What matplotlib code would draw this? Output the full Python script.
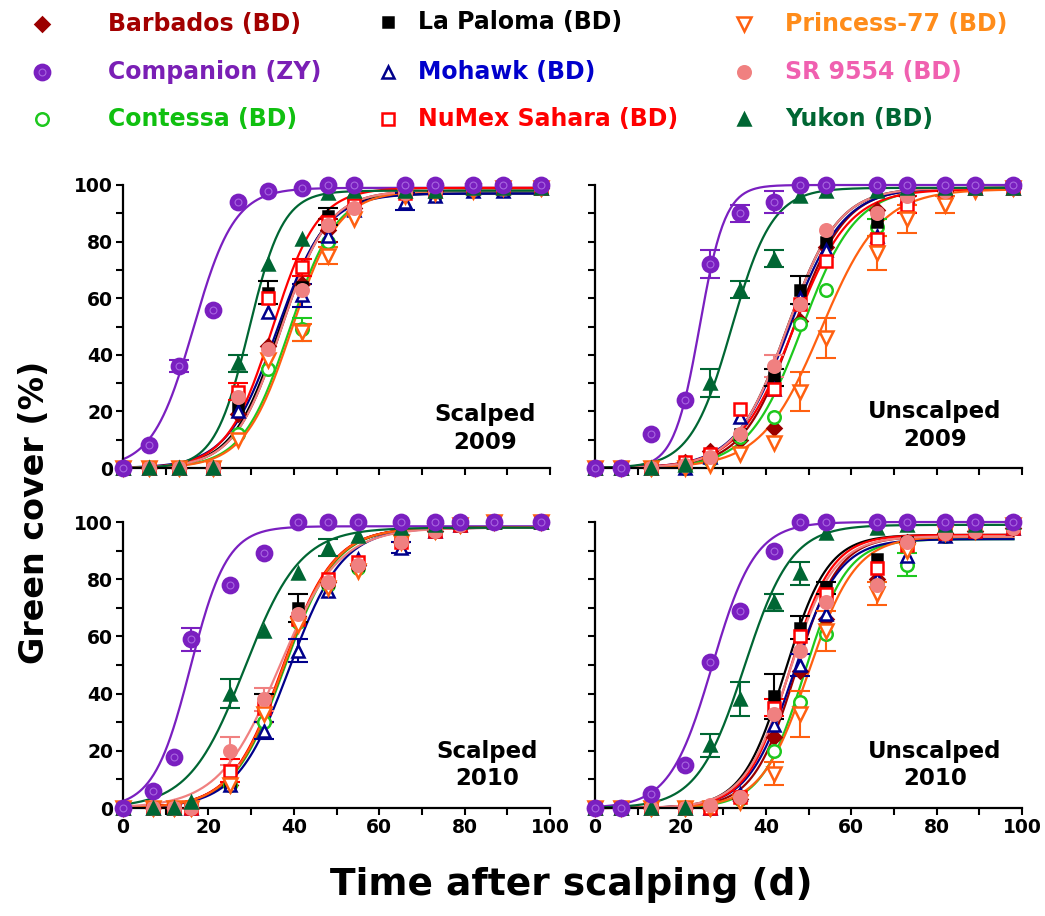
import numpy as np
import matplotlib
matplotlib.use('Agg')
import matplotlib.pyplot as plt
from matplotlib.ticker import MultipleLocator

plt.rcParams['font.family'] = ['DejaVu Sans']
plt.rcParams['font.weight'] = 'bold'

# cultivars, in legend order (column-wise)
names = ['Barbados', 'Companion', 'Contessa', 'La Paloma', 'Mohawk',
         'NuMex Sahara', 'Princess-77', 'SR 9554', 'Yukon']
labels = ['Barbados (BD)', 'Companion (ZY)', 'Contessa (BD)', 'La Paloma (BD)',
          'Mohawk (BD)', 'NuMex Sahara (BD)', 'Princess-77 (BD)', 'SR 9554 (BD)',
          'Yukon (BD)']

# sampling days
t_2009 = [0, 6, 13, 21, 27, 34, 42, 48, 54, 66, 73, 82, 89, 98]
t_s2010 = [0, 7, 12, 16, 25, 33, 41, 48, 55, 65, 73, 79, 87, 98]
t_u2010 = [0, 6, 13, 21, 27, 34, 42, 48, 54, 66, 73, 82, 89, 98]

# green cover (%) -- scalped 2009
s09 = {
    'Barbados':     [0, 0, 0, 0, 19, 43, 65, 84, 92, 97, 98, 99, 99, 99],
    'Companion':    [0, 8, 36, 56, 94, 98, 99, 100, 100, 100, 100, 100, 100, 100],
    'Contessa':     [0, 0, 0, 0, 12, 35, 49, 80, 95, 97, 98, 99, 99, 99],
    'La Paloma':    [0, 0, 0, 0, 22, 62, 64, 89, 92, 97, 97, 98, 99, 99],
    'Mohawk':       [0, 0, 0, 0, 20, 55, 61, 82, 91, 94, 96, 98, 98, 99],
    'NuMex Sahara': [0, 0, 0, 0, 27, 60, 71, 87, 93, 97, 98, 99, 99, 99],
    'Princess-77':  [0, 0, 0, 0, 10, 38, 48, 75, 88, 96, 97, 98, 99, 99],
    'SR 9554':      [0, 0, 0, 0, 25, 42, 63, 86, 92, 97, 98, 99, 99, 99],
    'Yukon':        [0, 0, 0, 0, 37, 72, 81, 97, 98, 98, 98, 99, 99, 99],
}
# unscalped 2009
u09 = {
    'Barbados':     [0, 0, 0, 2, 6, 10, 14, 52, 78, 91, 96, 98, 99, 99],
    'Companion':    [0, 0, 12, 24, 72, 90, 94, 100, 100, 100, 100, 100, 100, 100],
    'Contessa':     [0, 0, 0, 0, 3, 11, 18, 51, 63, 85, 96, 98, 99, 99],
    'La Paloma':    [0, 0, 0, 1, 4, 12, 32, 63, 80, 87, 96, 98, 99, 99],
    'Mohawk':       [0, 0, 0, 0, 4, 18, 28, 60, 77, 82, 96, 98, 99, 99],
    'NuMex Sahara': [0, 0, 0, 2, 5, 21, 28, 58, 73, 81, 93, 98, 99, 99],
    'Princess-77':  [0, 0, 0, 0, 1, 5, 9, 27, 46, 76, 88, 93, 98, 99],
    'SR 9554':      [0, 0, 0, 1, 4, 12, 36, 58, 84, 90, 96, 98, 99, 99],
    'Yukon':        [0, 0, 0, 1, 30, 63, 74, 96, 98, 98, 99, 99, 99, 99],
}
# scalped 2010
s10 = {
    'Barbados':     [0, 0, 0, 0, 8, 30, 67, 79, 85, 93, 97, 99, 100, 100],
    'Companion':    [0, 6, 18, 59, 78, 89, 100, 100, 100, 100, 100, 100, 100, 100],
    'Contessa':     [0, 0, 0, 0, 8, 30, 65, 78, 84, 93, 97, 99, 100, 100],
    'La Paloma':    [0, 0, 0, 0, 8, 35, 70, 79, 85, 93, 97, 99, 100, 100],
    'Mohawk':       [0, 0, 0, 0, 8, 27, 55, 76, 87, 91, 97, 99, 100, 100],
    'NuMex Sahara': [0, 0, 0, 0, 13, 35, 66, 80, 86, 93, 97, 99, 100, 100],
    'Princess-77':  [0, 0, 0, 0, 8, 33, 64, 77, 83, 93, 97, 99, 100, 100],
    'SR 9554':      [0, 0, 0, 0, 20, 38, 68, 79, 85, 93, 97, 99, 100, 100],
    'Yukon':        [0, 0, 0, 2, 40, 62, 82, 91, 95, 98, 99, 100, 100, 100],
}
# unscalped 2010
u10 = {
    'Barbados':     [0, 0, 0, 0, 0, 3, 25, 48, 66, 80, 93, 96, 97, 98],
    'Companion':    [0, 0, 5, 15, 51, 69, 90, 100, 100, 100, 100, 100, 100, 100],
    'Contessa':     [0, 0, 0, 0, 0, 3, 20, 37, 61, 78, 85, 95, 97, 98],
    'La Paloma':    [0, 0, 0, 0, 0, 4, 39, 63, 77, 87, 93, 96, 97, 98],
    'Mohawk':       [0, 0, 0, 0, 0, 5, 29, 50, 68, 80, 88, 95, 97, 98],
    'NuMex Sahara': [0, 0, 0, 0, 0, 4, 35, 60, 75, 84, 92, 96, 97, 98],
    'Princess-77':  [0, 0, 0, 0, 0, 2, 12, 33, 62, 75, 90, 96, 97, 99],
    'SR 9554':      [0, 0, 0, 0, 1, 4, 33, 55, 72, 78, 93, 96, 97, 98],
    'Yukon':        [0, 0, 0, 0, 22, 38, 72, 82, 96, 98, 99, 99, 99, 100],
}

# standard errors that show past the markers, {day: SE}
s09_err = {'La Paloma': {34: 4, 48: 3}, 'NuMex Sahara': {27: 3, 42: 3},
           'Yukon': {27: 3}, 'Princess-77': {42: 3, 48: 3}, 'Contessa': {42: 4},
           'Mohawk': {42: 4, 66: 3}, 'Barbados': {48: 4}, 'Companion': {13: 2}}
u09_err = {'Companion': {27: 5, 34: 3, 42: 4}, 'Yukon': {27: 5, 34: 3, 42: 3},
           'La Paloma': {42: 3, 48: 5}, 'Princess-77': {48: 7, 54: 7, 66: 6, 73: 5, 82: 3},
           'SR 9554': {42: 4}, 'Contessa': {66: 3}, 'NuMex Sahara': {73: 3}}
s10_err = {'Companion': {16: 4}, 'Yukon': {25: 5, 48: 3}, 'La Paloma': {33: 5, 41: 5},
           'SR 9554': {25: 5, 33: 4}, 'NuMex Sahara': {25: 4},
           'Mohawk': {33: 3, 41: 4, 65: 2}}
u10_err = {'La Paloma': {42: 8, 48: 4, 54: 2}, 'Yukon': {27: 4, 34: 6, 42: 3, 48: 4},
           'Princess-77': {42: 4, 48: 8, 54: 7, 66: 4}, 'Contessa': {73: 4},
           'NuMex Sahara': {42: 3}, 'Mohawk': {48: 4}}

# fitted logistic curves: (top, day at 50 %, scale)
s09_fit = {'Barbados': (98, 37, 5.5), 'Companion': (99, 16.5, 4.8), 'Contessa': (98, 39, 5.5),
           'La Paloma': (97, 36.5, 5.5), 'Mohawk': (97, 36, 5.8), 'NuMex Sahara': (99, 35, 5.3),
           'Princess-77': (98, 39.5, 5.5), 'SR 9554': (98, 37, 5.5), 'Yukon': (98, 29.5, 4)}
u09_fit = {'Barbados': (99, 46.5, 6), 'Companion': (100, 24.5, 3), 'Contessa': (99, 48.5, 6.3),
           'La Paloma': (99, 45, 6), 'Mohawk': (99, 45.5, 6.3), 'NuMex Sahara': (98.5, 46.5, 6.5),
           'Princess-77': (98.5, 53, 7), 'SR 9554': (99, 45, 6), 'Yukon': (99, 32, 4.8)}
s10_fit = {'Barbados': (98, 37.5, 6), 'Companion': (98.5, 15.8, 4.3), 'Contessa': (98, 37.8, 6),
           'La Paloma': (98, 37.5, 6), 'Mohawk': (98, 39, 6.2), 'NuMex Sahara': (98, 37.3, 6),
           'Princess-77': (98, 37.5, 6), 'SR 9554': (98, 36.5, 7), 'Yukon': (98, 28.5, 6.5)}
u10_fit = {'Barbados': (95, 47, 5), 'Companion': (100, 27.5, 5), 'Contessa': (94, 49, 5),
           'La Paloma': (95.5, 44.5, 5), 'Mohawk': (94, 46.5, 5.3), 'NuMex Sahara': (95.5, 45.5, 5),
           'Princess-77': (95, 50, 5.5), 'SR 9554': (95, 45.5, 5.3), 'Yukon': (99, 35, 5.5)}

# marker, colour, filled, size, legend text colour
styles = {
    'Barbados':     ('D', '#9b0000', True, 7, '#a30000'),
    'Companion':    ('o', '#7a1fc0', True, 11, '#7a1fb5'),
    'Contessa':     ('o', '#1ec81e', False, 9, '#10c010'),
    'La Paloma':    ('s', '#000000', True, 7.5, '#000000'),
    'Mohawk':       ('^', '#00008b', False, 9, '#0000cc'),
    'NuMex Sahara': ('s', '#ff0000', False, 9, '#ff0000'),
    'Princess-77':  ('v', '#ff6010', False, 9.5, '#ff8c1a'),
    'SR 9554':      ('o', '#f08080', True, 9, '#f060b0'),
    'Yukon':        ('^', '#006633', True, 9, '#006633'),
}


def curve(xs, p):
    top, x50, s = p
    return top / (1 + np.exp(-(xs - x50) / s))


def put_marker(ax, x, y, n, z=4):
    mk, c, filled, ms, _ = styles[n]
    ax.plot(x, y, ls='none', marker=mk, ms=ms, mfc=c if filled else 'white',
            mec=c, mew=1.8, zorder=z, clip_on=False)
    if n == 'Companion':
        # dotted texture of the Companion symbol
        ax.plot(x, y, ls='none', marker='o', ms=ms * 0.45, mfc='none',
                mec='#a866e0', mew=0.8, zorder=z, clip_on=False)


def draw_panel(ax, t, vals, errs, fits, text, bottom_labels, left_labels):
    xs = np.linspace(0, 98, 300)
    for n in names:
        ax.plot(xs, curve(xs, fits[n]), color=styles[n][1], lw=1.6, zorder=2, clip_on=False)
    order = [n for n in names if n != 'Companion'] + ['Companion']
    for n in order:
        c = styles[n][1]
        e = errs.get(n, {})
        et = [d for d in t if d in e]
        if et:
            ey = [vals[n][t.index(d)] for d in et]
            ax.errorbar(et, ey, yerr=[e[d] for d in et], fmt='none', ecolor=c,
                        elinewidth=1.5, capsize=7, capthick=1.5, zorder=3, clip_on=False)
        put_marker(ax, t, vals[n], n)
    ax.set_xlim(0, 100)
    ax.set_ylim(0, 100)
    ax.xaxis.set_major_locator(MultipleLocator(20))
    ax.xaxis.set_minor_locator(MultipleLocator(10))
    ax.yaxis.set_major_locator(MultipleLocator(20))
    ax.yaxis.set_minor_locator(MultipleLocator(10))
    ax.tick_params(which='both', direction='out', length=5, width=1.5, labelsize=13.5, pad=2)
    ax.tick_params(labelbottom=bottom_labels, labelleft=left_labels)
    for sp in ['top', 'right']:
        ax.spines[sp].set_visible(False)
    for sp in ['left', 'bottom']:
        ax.spines[sp].set_linewidth(1.6)
    for lab in ax.get_xticklabels() + ax.get_yticklabels():
        lab.set_fontweight('bold')
    ax.text(text[1], text[2], text[0], transform=ax.transAxes, ha='center', va='center',
            fontsize=16.5, fontweight='bold', linespacing=1.25)


W, H = 1045, 916
fig = plt.figure(figsize=(W / 100, H / 100), dpi=100)

ax_tl = fig.add_axes([123 / W, 1 - 468 / H, 427 / W, 283 / H])
ax_tr = fig.add_axes([595 / W, 1 - 468 / H, 427 / W, 283 / H])
ax_bl = fig.add_axes([123 / W, 1 - 808 / H, 427 / W, 286 / H])
ax_br = fig.add_axes([595 / W, 1 - 808 / H, 427 / W, 286 / H])

draw_panel(ax_tl, t_2009, s09, s09_err, s09_fit, ('Scalped\n2009', 0.848, 0.14), False, True)
draw_panel(ax_tr, t_2009, u09, u09_err, u09_fit, ('Unscalped\n2009', 0.796, 0.15), False, False)
draw_panel(ax_bl, t_s2010, s10, s10_err, s10_fit, ('Scalped\n2010', 0.852, 0.15), True, True)
draw_panel(ax_br, t_u2010, u10, u10_err, u10_fit, ('Unscalped\n2010', 0.796, 0.15), True, False)

fig.text(0.547, 1 - 885 / H, 'Time after scalping (d)', ha='center', va='center',
         fontsize=27, fontweight='bold')
fig.text(35 / W, 1 - 512 / H, 'Green cover (%)', ha='center', va='center',
         rotation=90, fontsize=24, fontweight='bold')

# legend drawn in pixel space across the top
leg = fig.add_axes([0, 0, 1, 1], zorder=-1)
leg.set_xlim(0, W)
leg.set_ylim(H, 0)
leg.axis('off')
mk_x = [42, 42, 42, 388, 388, 388, 744, 744, 744]
tx_x = [108, 108, 108, 418, 418, 418, 785, 785, 785]
row_y = [24, 72, 119, 22, 72, 119, 24, 72, 119]
for i, n in enumerate(names):
    put_marker(leg, mk_x[i], row_y[i], n)
    leg.text(tx_x[i], row_y[i], labels[i], color=styles[n][4], fontsize=17,
             fontweight='bold', va='center', ha='left')

fig.savefig('out.png', dpi=100)
